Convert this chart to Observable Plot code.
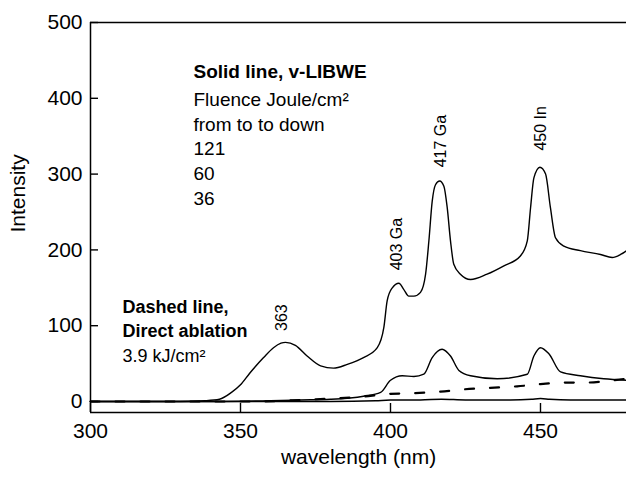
<!DOCTYPE html>
<html>
<head>
<meta charset="utf-8">
<script src="https://cdn.jsdelivr.net/npm/d3@7"></script>
<script src="https://cdn.jsdelivr.net/npm/@observablehq/plot@0.6"></script>
<style>
  html, body { margin: 0; padding: 0; background: #fff; }
  #chart { width: 626px; height: 478px; }
</style>
</head>
<body>
<div id="chart"></div>
<script>
// ---- Data ----
// v-LIBWE, 121 J/cm2 (top solid line)
const wl121 = [300, 310, 320, 330, 338, 343, 347, 350, 353, 357.7, 361, 363.5, 365, 368.3, 372.2, 376.7, 381, 385.6, 391, 395.6, 397.8, 398.9, 400.6, 402.8, 404.4, 406.1, 407.8, 410, 411.7, 412.8, 413.9, 415, 416.4, 417.8, 418.9, 420, 421.1, 423.3, 426.7, 432.2, 437.8, 443.3, 445.6, 446.7, 447.8, 449.8, 451.7, 453.3, 455, 457.8, 463.3, 470, 473.9, 476.7, 478.7];
const int121 = [0, 0, 0, 0, 1, 3, 12, 22, 37, 58, 71, 77, 78, 74, 60, 47, 44, 49, 58, 71, 98, 133, 150, 156, 148, 139, 139, 144, 168, 212, 264, 286, 291, 284, 256, 212, 181, 168, 161, 168, 179, 192, 212, 256, 295, 309, 300, 256, 216, 205, 199, 194, 190, 194, 199];
// v-LIBWE, 60 J/cm2 (middle solid line)
const wl60 = [300, 320, 340, 360, 370, 380, 391, 396.7, 400, 403.9, 407.8, 411.1, 413.9, 417.2, 420, 422.8, 426.7, 435.6, 445.6, 447.8, 450, 452.8, 456.7, 463.3, 471.1, 478.7];
const int60 = [0, 0, 0, 1, 2, 3, 7, 12, 28, 34, 33, 36, 58, 69, 60, 41, 34, 30, 36, 60, 71, 63, 39, 34, 30, 28];
// v-LIBWE, 36 J/cm2 (lowest solid line)
const wl36 = [300, 350, 380, 395, 400, 410, 417, 425, 440, 447, 450, 453, 460, 470, 478.7];
const int36 = [0, 0, 0, 1, 2, 2, 3, 2, 2, 3, 4, 3, 2, 2, 2];
// Direct ablation, 3.9 kJ/cm2 (dashed line)
const wlDirect = [300, 330, 355, 370, 380, 390, 398.9, 407.8, 416.7, 424.4, 433.3, 442.2, 450, 457.8, 465.6, 472, 478.7];
const intDirect = [0, 0, 0, 2, 4, 6, 10, 11, 13, 16, 18, 20, 23, 25, 25, 27, 30];

// Peak labels
const peakLabels = ["363", "403 Ga", "417 Ga", "450 In"];
const peakX = [363.7, 402.2, 416.7, 450];
const peakY = [93, 173, 309, 331];

// Axes
const xTicks = [300, 350, 400, 450];
const yTicks = [0, 100, 200, 300, 400, 500];
const xDomain = [300, 478.67];
const yDomain = [-14.5, 500];

// Annotation texts
const solidTitle = "Solid line, v-LIBWE";
const solidLines = ["Fluence Joule/cm\u00B2", "from to to down", "121", "60", "36"];
const dashedTitle = ["Dashed line,", "Direct ablation"];
const dashedSub = "3.9 kJ/cm\u00B2";

const toRows = (xs, ys) => xs.map((x, i) => ({wl: x, v: ys[i]}));

const font = "'Liberation Sans', Arial, Helvetica, sans-serif";

const chart = Plot.plot({
  width: 626,
  height: 478,
  marginLeft: 90,
  marginRight: 0,
  marginTop: 22,
  marginBottom: 66,
  style: {fontFamily: font, background: "#fff", color: "#000", overflow: "visible"},
  x: {domain: xDomain, ticks: xTicks},
  y: {domain: yDomain, ticks: yTicks},
  marks: [
    Plot.axisX(xTicks, {tickSize: 0, tickPadding: 11, fontSize: 21, label: null}),
    Plot.axisY(yTicks, {tickSize: 0, tickPadding: 8, fontSize: 21, label: null}),
    Plot.tickY(yTicks, {y: d => d, insetRight: 536 - 8, stroke: "#000", strokeWidth: 1.4}),
    Plot.tickX(xTicks, {x: d => d, insetTop: 390 - 9, stroke: "#000", strokeWidth: 1.4}),
    Plot.ruleX([xDomain[0]], {stroke: "#000", strokeWidth: 1.5}),
    Plot.ruleY([yDomain[0], yDomain[1]], {stroke: "#000", strokeWidth: 1.5}),
    Plot.line(toRows(wl36, int36), {x: "wl", y: "v", stroke: "#000", strokeWidth: 1.5, curve: "monotone-x"}),
    Plot.line(toRows(wlDirect, intDirect), {x: "wl", y: "v", stroke: "#000", strokeWidth: 2.2, strokeDasharray: "9,16", curve: "monotone-x"}),
    Plot.line(toRows(wl60, int60), {x: "wl", y: "v", stroke: "#000", strokeWidth: 1.4, curve: "monotone-x"}),
    Plot.line(toRows(wl121, int121), {x: "wl", y: "v", stroke: "#000", strokeWidth: 1.4, curve: "monotone-x"}),
    Plot.text(peakLabels, {x: (d, i) => peakX[i], y: (d, i) => peakY[i], text: d => d, rotate: -90, textAnchor: "start", fontSize: 16, fill: "#000"}),
    Plot.text([solidTitle], {frameAnchor: "top-left", dx: 103, dy: 55, text: d => d, lineAnchor: "bottom", textAnchor: "start", fontWeight: "bold", fontSize: 19, fill: "#000"}),
    Plot.text([solidLines.join("\n")], {frameAnchor: "top-left", dx: 103, dy: 182, text: d => d, lineAnchor: "bottom", textAnchor: "start", fontSize: 19, lineHeight: 1.29, fill: "#000"}),
    Plot.text([dashedTitle.join("\n")], {frameAnchor: "top-left", dx: 32, dy: 314, text: d => d, lineAnchor: "bottom", textAnchor: "start", fontWeight: "bold", fontSize: 18, lineHeight: 1.333, fill: "#000"}),
    Plot.text([dashedSub], {frameAnchor: "top-left", dx: 32, dy: 339, text: d => d, lineAnchor: "bottom", textAnchor: "start", fontSize: 18, fill: "#000"}),
    Plot.text(["Intensity"], {frameAnchor: "left", dx: -72, dy: 15, text: d => d, rotate: -90, fontSize: 21, fill: "#000"}),
    Plot.text(["wavelength (nm)"], {frameAnchor: "bottom", dy: 51, text: d => d, fontSize: 21, fill: "#000"})
  ]
});
document.getElementById("chart").appendChild(chart);
</script>
</body>
</html>
